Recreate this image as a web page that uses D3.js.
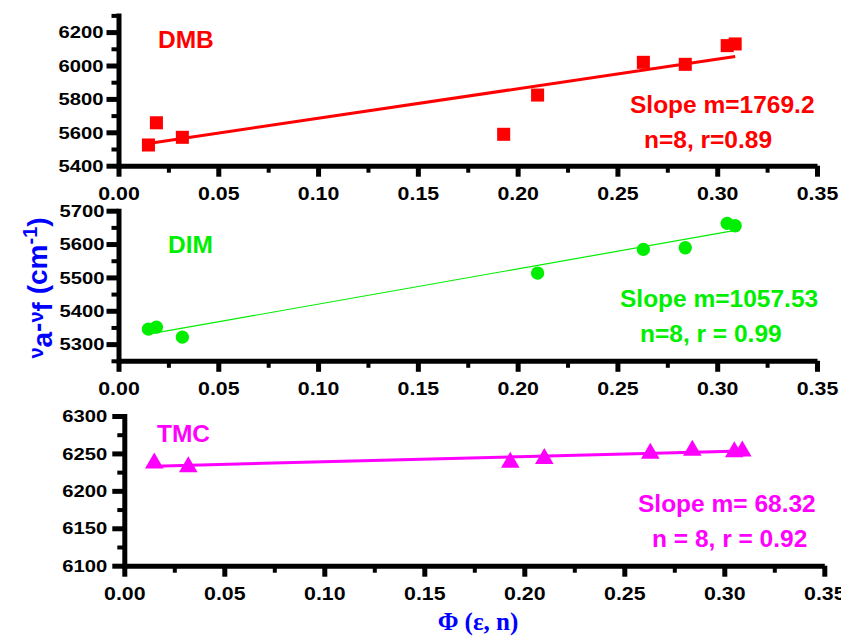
<!DOCTYPE html>
<html>
<head>
<meta charset="utf-8">
<script src="https://cdn.jsdelivr.net/npm/d3@7"></script>
<style>
  body { margin: 0; background: #fff; }
  svg { display: block; }
  .tick text { font-family: "Liberation Sans", Arial, sans-serif; font-weight: bold; fill: #000; }
  .note { font-family: "Liberation Sans", Arial, sans-serif; font-weight: bold; font-size: 24.5px; }
</style>
</head>
<body>
<svg id="chart"></svg>
<script>
// values
const dmbPhi = [0.015, 0.019, 0.032, 0.193, 0.210, 0.263, 0.284, 0.305, 0.309];
const dmbVal = [5524, 5657, 5570, 5588, 5823, 6019, 6007, 6119, 6129];
const dimPhi = [0.015, 0.019, 0.032, 0.210, 0.263, 0.284, 0.305, 0.309];
const dimVal = [5345, 5351, 5321, 5513, 5584, 5589, 5662, 5655];
const tmcPhi = [0.015, 0.032, 0.193, 0.210, 0.263, 0.284, 0.305, 0.309];
const tmcVal = [6237, 6232, 6238, 6243, 6250, 6254, 6252, 6253];

const fitSlope = [1769.2, 1057.53, 68.32];
const fitIntercept = [5507, 5314, 6232];
const fitRange = [0.015, 0.309];

const seriesNames = ['DMB', 'DIM', 'TMC'];
const slopeLabels = ['Slope m=1769.2', 'Slope m=1057.53', 'Slope m= 68.32'];
const statLabels = ['n=8, r=0.89', 'n=8, r = 0.99', 'n = 8, r = 0.92'];

const xDomain = [0, 0.35];
const xMajor = d3.range(0, 0.3501, 0.05);
const xMinor = d3.range(0.025, 0.35, 0.05);
const yDomains = [[5400, 6300], [5250, 5700], [6100, 6300]];
const yMajor = [d3.range(5400, 6201, 200), d3.range(5300, 5701, 100), d3.range(6100, 6301, 50)];
const yMinor = [d3.range(5500, 6301, 200), d3.range(5250, 5651, 100), d3.range(6125, 6276, 50)];

const width = 841;
const height = 638;

const panels = [
  { left: 118.5, right: 817, top: 15.4, bottom: 165.7, color: '#ff0000', shape: d3.symbolSquare, size: 170, lw: 3,
    name: [158, 48], slope: [630, 113], stat: [644, 148], labelPad: 15 },
  { left: 118.5, right: 817, top: 210.7, bottom: 360.8, color: '#00ee00', shape: d3.symbolCircle, size: 140, lw: 1.2,
    name: [168, 253], slope: [620, 307], stat: [640, 342], labelPad: 14 },
  { left: 124.3, right: 824.3, top: 416, bottom: 565.7, color: '#ff00ff', shape: d3.symbolTriangle, size: 150, lw: 3,
    name: [157, 442], slope: [638, 512], stat: [652, 547], labelPad: 17 },
];
const phis = [dmbPhi, dimPhi, tmcPhi];
const vals = [dmbVal, dimVal, tmcVal];

const svg = d3.select('#chart')
  .attr('width', width)
  .attr('height', height);

panels.forEach((p, k) => {
  const x = d3.scaleLinear().domain(xDomain).range([p.left, p.right]);
  const y = d3.scaleLinear().domain(yDomains[k]).range([p.bottom, p.top]);
  const g = svg.append('g');

  // minor ticks first, then majors with labels
  g.append('g')
    .attr('transform', `translate(0,${p.bottom})`)
    .call(d3.axisBottom(x).tickValues(xMinor).tickSize(7).tickSizeOuter(0).tickFormat(''))
    .call(a => a.select('.domain').remove())
    .call(a => a.selectAll('line').attr('stroke-width', 4));

  g.append('g')
    .attr('transform', `translate(${p.left},0)`)
    .call(d3.axisLeft(y).tickValues(yMinor[k]).tickSize(7).tickSizeOuter(0).tickFormat(''))
    .call(a => a.select('.domain').remove())
    .call(a => a.selectAll('line').attr('stroke-width', 4));

  g.append('g')
    .attr('transform', `translate(0,${p.bottom})`)
    .call(d3.axisBottom(x).tickValues(xMajor).tickSize(11).tickSizeOuter(0).tickFormat(d3.format('.2f')))
    .call(a => a.select('.domain').attr('stroke-width', 5))
    .call(a => a.selectAll('line').attr('stroke-width', 5))
    .call(a => a.selectAll('text')
      .attr('y', 34).attr('dy', null)
      .attr('font-size', 17.5)
      .attr('transform', 'scale(1.22,1)'));

  g.append('g')
    .attr('transform', `translate(${p.left},0)`)
    .call(d3.axisLeft(y).tickValues(yMajor[k]).tickSize(12).tickSizeOuter(0).tickFormat(d3.format('d')))
    .call(a => a.select('.domain').attr('stroke-width', 5).attr('stroke-linecap', 'square'))
    .call(a => a.selectAll('line').attr('stroke-width', 5))
    .call(a => a.selectAll('text')
      .attr('x', 0).attr('dy', '0.35em')
      .attr('font-size', 16.3)
      .attr('transform', `translate(${-p.labelPad},0) scale(1.24,1)`));

  // fitted line
  const line = d3.line()
    .x(d => x(d))
    .y(d => y(fitIntercept[k] + fitSlope[k] * d));
  g.append('path')
    .datum(fitRange)
    .attr('d', line)
    .attr('fill', 'none')
    .attr('stroke', p.color)
    .attr('stroke-width', p.lw);

  const sym = d3.symbol().type(p.shape).size(p.size);
  g.selectAll('.pt')
    .data(d3.zip(phis[k], vals[k]))
    .enter().append('path')
    .attr('class', 'pt')
    .attr('transform', d => `translate(${x(d[0])},${y(d[1])})`)
    .attr('d', sym)
    .attr('fill', p.color);

  g.append('text').attr('class', 'note').attr('fill', p.color)
    .attr('x', p.name[0]).attr('y', p.name[1]).text(seriesNames[k]);
  g.append('text').attr('class', 'note').attr('fill', p.color)
    .attr('x', p.slope[0]).attr('y', p.slope[1]).text(slopeLabels[k]);
  g.append('text').attr('class', 'note').attr('fill', p.color)
    .attr('x', p.stat[0]).attr('y', p.stat[1]).text(statLabels[k]);
});

// axis titles
const yTitle = svg.append('text')
  .attr('transform', 'translate(47,288) rotate(-90)')
  .attr('text-anchor', 'middle')
  .attr('fill', '#0000ff')
  .attr('font-family', '"Liberation Sans", Arial, sans-serif')
  .attr('font-weight', 'bold')
  .attr('font-size', 28);
yTitle.append('tspan').attr('font-size', 20).attr('dy', -4).text('ν');
yTitle.append('tspan').attr('dy', 9).text('a');
yTitle.append('tspan').attr('dy', -5).text('-');
yTitle.append('tspan').attr('font-size', 20).attr('dy', -4).text('ν');
yTitle.append('tspan').attr('dy', 9).text('f');
yTitle.append('tspan').attr('dy', -5).text(' (cm');
yTitle.append('tspan').attr('font-size', 20).attr('dy', -10).text('-1');
yTitle.append('tspan').attr('dy', 10).text(')');

svg.append('text')
  .attr('x', 478).attr('y', 630)
  .attr('text-anchor', 'middle')
  .attr('fill', '#0000ff')
  .attr('font-family', '"Liberation Serif", "Times New Roman", serif')
  .attr('font-weight', 'bold')
  .attr('font-size', 25)
  .text('Φ (ε, n)');
</script>
</body>
</html>
